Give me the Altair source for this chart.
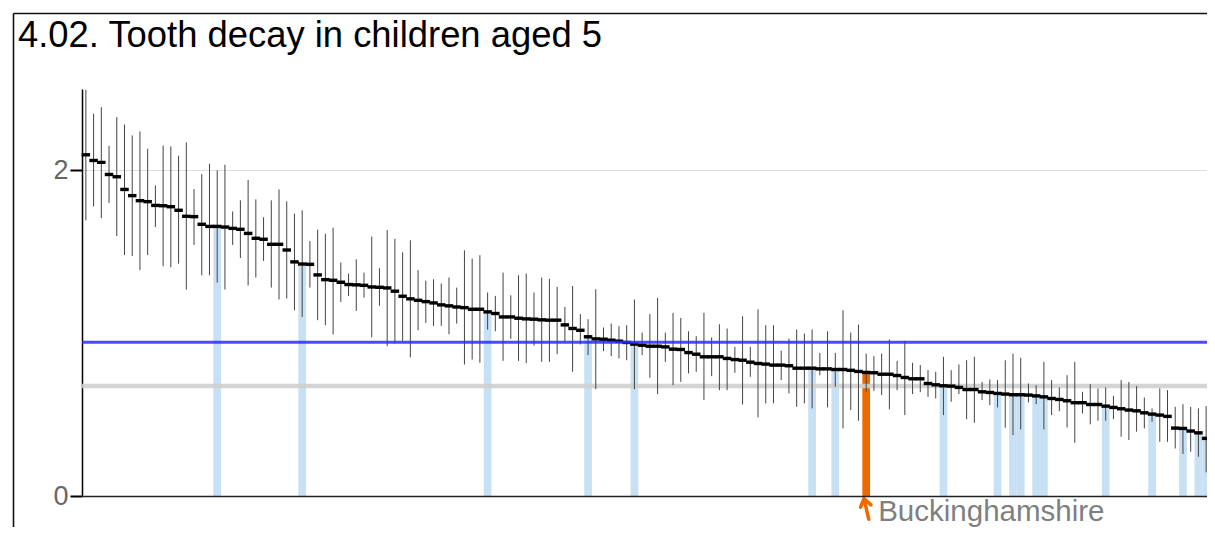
import altair as alt
import pandas as pd

title_text = "4.02. Tooth decay in children aged 5"
selected_name = "Buckinghamshire"
selected_rank = 102
comparator_ranks = [18, 29, 53, 66, 72, 95, 98, 112, 119, 121, 122, 124, 125,
                    133, 139, 143, 145, 146]
blue_level = 0.945
grey_level = 0.675
y_ticks = [0, 2]

values = [
    2.096, 2.061, 2.049, 1.975, 1.961, 1.883, 1.845, 1.814, 1.808, 1.785,
    1.783, 1.777, 1.755, 1.718, 1.716, 1.669, 1.656, 1.656, 1.652, 1.644,
    1.638, 1.613, 1.583, 1.577, 1.546, 1.546, 1.511, 1.438, 1.425, 1.423,
    1.358, 1.329, 1.325, 1.313, 1.299, 1.297, 1.294, 1.284, 1.282, 1.278,
    1.258, 1.227, 1.211, 1.202, 1.194, 1.186, 1.174, 1.168, 1.161, 1.157,
    1.147, 1.147, 1.131, 1.121, 1.100, 1.100, 1.092, 1.088, 1.086, 1.082,
    1.080, 1.080, 1.051, 1.029, 1.018, 0.978, 0.965, 0.963, 0.957, 0.951,
    0.943, 0.933, 0.926, 0.920, 0.920, 0.916, 0.902, 0.900, 0.881, 0.871,
    0.855, 0.855, 0.855, 0.845, 0.838, 0.834, 0.822, 0.814, 0.810, 0.804,
    0.804, 0.800, 0.785, 0.785, 0.785, 0.781, 0.781, 0.777, 0.777, 0.772,
    0.765, 0.759, 0.757, 0.748, 0.748, 0.740, 0.728, 0.720, 0.720, 0.691,
    0.683, 0.677, 0.675, 0.667, 0.654, 0.654, 0.640, 0.636, 0.630, 0.626,
    0.622, 0.622, 0.620, 0.615, 0.609, 0.599, 0.593, 0.585, 0.573, 0.573,
    0.562, 0.562, 0.552, 0.544, 0.536, 0.528, 0.523, 0.511, 0.503, 0.497,
    0.489, 0.417, 0.415, 0.399, 0.388, 0.354,
]
upper = [
    2.495, 2.348, 2.388, 2.151, 2.327, 2.282, 2.215, 2.239, 2.133, 1.908,
    2.153, 2.147, 2.090, 2.172, 1.885, 1.977, 2.041, 2.000, 2.035, 1.748,
    1.816, 1.941, 1.822, 1.712, 1.816, 1.883, 1.810, 1.734, 1.755, 1.566,
    1.636, 1.611, 1.648, 1.434, 1.366, 1.454, 1.372, 1.593, 1.399, 1.634,
    1.579, 1.497, 1.571, 1.387, 1.323, 1.331, 1.305, 1.342, 1.280, 1.509,
    1.458, 1.479, 1.250, 1.229, 1.372, 1.233, 1.356, 1.366, 1.250, 1.342,
    1.335, 1.284, 1.161, 1.290, 1.117, 1.086, 1.270, 1.035, 1.059, 1.043,
    1.049, 1.207, 1.004, 1.117, 1.217, 1.004, 1.125, 1.094, 1.012, 0.982,
    1.125, 0.974, 1.055, 1.029, 0.916, 1.104, 0.916, 1.147, 1.049, 1.049,
    0.892, 0.967, 1.023, 0.998, 1.023, 0.879, 1.012, 0.879, 1.141, 1.004,
    1.053, 0.875, 0.859, 0.875, 0.961, 0.830, 0.953, 0.818, 0.804, 0.773,
    0.763, 0.855, 0.773, 0.808, 0.834, 0.855, 0.701, 0.716, 0.712, 0.834,
    0.875, 0.849, 0.691, 0.681, 0.824, 0.712, 0.667, 0.742, 0.824, 0.640,
    0.687, 0.661, 0.667, 0.615, 0.712, 0.701, 0.675, 0.605, 0.538, 0.661,
    0.650, 0.548, 0.564, 0.548, 0.538, 0.552,
]
lower = [
    1.693, 1.779, 1.707, 1.800, 1.597, 1.480, 1.474, 1.387, 1.480, 1.652,
    1.411, 1.405, 1.427, 1.268, 1.542, 1.356, 1.356, 1.311, 1.268, 1.542,
    1.462, 1.293, 1.342, 1.444, 1.280, 1.207, 1.213, 1.141, 1.100, 1.280,
    1.080, 1.049, 0.992, 1.192, 1.229, 1.137, 1.219, 0.975, 1.168, 0.920,
    0.937, 0.953, 0.851, 1.018, 1.063, 1.045, 1.045, 0.994, 1.059, 0.808,
    0.838, 0.818, 1.022, 1.012, 0.830, 0.965, 0.830, 0.816, 0.924, 0.824,
    0.824, 0.871, 0.951, 0.763, 0.931, 0.865, 0.656, 0.890, 0.859, 0.845,
    0.834, 0.656, 0.865, 0.726, 0.626, 0.824, 0.681, 0.701, 0.753, 0.763,
    0.589, 0.736, 0.650, 0.650, 0.757, 0.562, 0.732, 0.483, 0.569, 0.569,
    0.712, 0.630, 0.548, 0.569, 0.538, 0.742, 0.544, 0.671, 0.415, 0.528,
    0.462, 0.640, 0.646, 0.620, 0.532, 0.650, 0.497, 0.626, 0.638, 0.609,
    0.599, 0.497, 0.579, 0.626, 0.472, 0.450, 0.589, 0.558, 0.544, 0.419,
    0.374, 0.409, 0.575, 0.564, 0.409, 0.497, 0.521, 0.421, 0.327, 0.507,
    0.440, 0.462, 0.462, 0.472, 0.364, 0.344, 0.395, 0.415, 0.456, 0.333,
    0.333, 0.292, 0.258, 0.272, 0.241, 0.145,
]

n = len(values)
ranks = list(range(1, n + 1))
groups = []
names = []
for r in ranks:
    if r == selected_rank:
        groups.append("selected")
        names.append(selected_name)
    elif r in comparator_ranks:
        groups.append("comparator")
        names.append("")
    else:
        groups.append("other")
        names.append("")

df = pd.DataFrame({"rank": ranks, "value": values, "lower": lower,
                   "upper": upper, "group": groups, "name": names})
ref_df = pd.DataFrame({"line": ["blue", "grey"], "level": [blue_level, grey_level]})
one = pd.DataFrame({"title": [title_text]})

W, H = 1128, 407
PAD = {"left": 74, "top": 81, "right": -3, "bottom": 31}
FONT = "Liberation Sans"
ARROW = "M -0.52 -0.16 L -0.2 -0.95 L 0.43 -0.38 M -0.2 -0.95 L 0.23 0.93"

X = alt.X("rank:O", scale=alt.Scale(paddingInner=0, paddingOuter=0),
          axis=alt.Axis(labels=False, ticks=False, title=None, grid=False,
                        domainColor="#222222", domainWidth=1.5, zindex=1))
YS = alt.Scale(domain=[0, 2.5], nice=False)
YA = alt.Axis(values=y_ticks, title=None, grid=True, gridColor="#dddddd",
              gridWidth=1, tickColor="#000000", tickWidth=2, tickSize=12,
              labelFontSize=27, labelColor="#666666", labelFont=FONT,
              labelPadding=2, domainColor="#000000", domainWidth=1.5, format="d")

bars = alt.Chart(df).transform_filter("datum.group != 'other'").mark_bar(opacity=1).encode(
    x=X,
    y=alt.Y("value:Q", scale=YS, axis=YA),
    color=alt.Color("group:N", scale=alt.Scale(domain=["comparator", "selected"],
                                                range=["#c8e0f4", "#ee6a00"]), legend=None),
)

grey_line = alt.Chart(ref_df).transform_filter("datum.line == 'grey'").mark_rule(
    color="#cfcfcf", strokeWidth=4.5, opacity=0.9
).encode(y=alt.Y("level:Q", scale=YS, axis=YA))

errs = alt.Chart(df).mark_rule(color="#444444", strokeWidth=1).encode(
    x=X, y=alt.Y("lower:Q", scale=YS, axis=YA), y2="upper:Q"
)

ticks = alt.Chart(df).mark_tick(color="#000000", thickness=3.4, size=8.5, opacity=1).encode(
    x=X, y=alt.Y("value:Q", scale=YS, axis=YA)
)

blue_line = alt.Chart(ref_df).transform_filter("datum.line == 'blue'").mark_rule(
    color="#2a2aff", strokeWidth=3, opacity=0.85
).encode(y=alt.Y("level:Q", scale=YS, axis=YA))

sel_label = alt.Chart(df).transform_filter("datum.group == 'selected'").mark_text(
    align="left", baseline="alphabetic", dx=12, fontSize=29.5, font=FONT, color="#7f7f7f"
).encode(x=X, y=alt.value(H + 25), text="name:N")

arrow = alt.Chart(df).transform_filter("datum.group == 'selected'").mark_point(
    shape=ARROW, filled=False, color="#ee6a00", strokeWidth=3.5, size=480,
    opacity=1, strokeCap="round", strokeJoin="round"
).encode(x=X, y=alt.value(H + 13))

title = alt.Chart(one).mark_text(
    align="left", baseline="alphabetic", fontSize=36.4, font=FONT, color="#000000"
).encode(x=alt.value(-64), y=alt.value(-42), text="title:N")

frame_left = alt.Chart(one).mark_rule(color="#111111", strokeWidth=1.6).encode(
    x=alt.value(-68.5), y=alt.value(-75.5), y2=alt.value(H + PAD["bottom"])
)
frame_top = alt.Chart(one).mark_rule(color="#111111", strokeWidth=1.6).encode(
    x=alt.value(-68.5), x2=alt.value(W + PAD["right"]), y=alt.value(-75.5)
)

chart = alt.layer(
    bars, grey_line, errs, ticks, blue_line, sel_label, arrow, title,
    frame_left, frame_top
).properties(
    width=W, height=H, padding=PAD,
    autosize=alt.AutoSizeParams(type="none"),
    background="white",
).configure_view(stroke="transparent")

chart.save("out.html", embed_options={"renderer": "svg", "actions": False})
